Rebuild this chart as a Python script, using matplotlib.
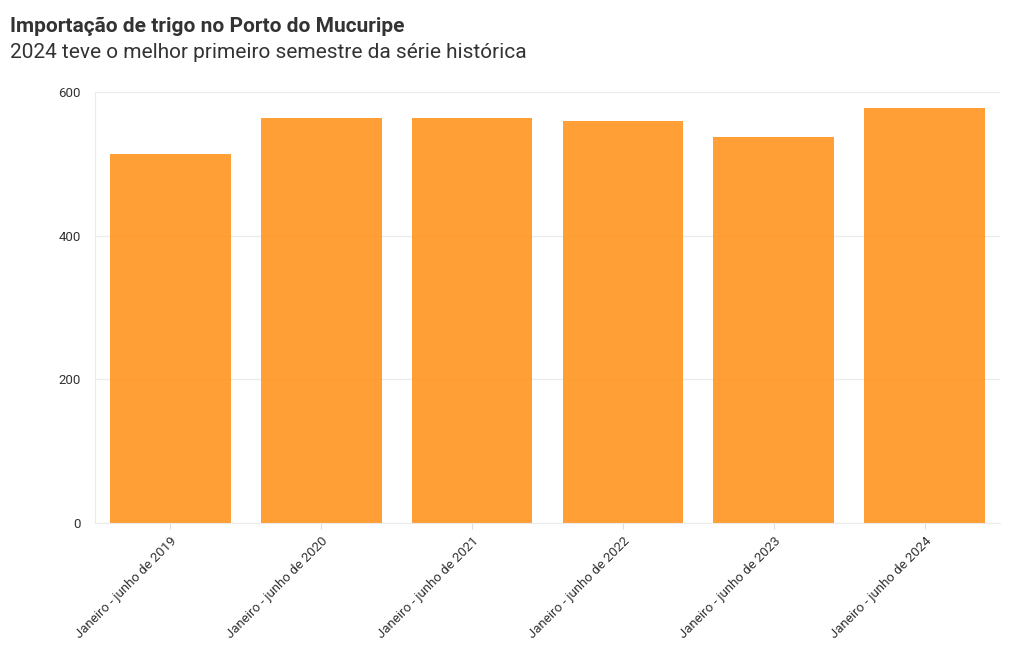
import matplotlib
matplotlib.use("Agg")
import matplotlib.pyplot as plt
import numpy as np

plt.rcParams['font.family'] = ['Roboto', 'DejaVu Sans']

periodos = ["Janeiro - junho de 2019", "Janeiro - junho de 2020", "Janeiro - junho de 2021",
            "Janeiro - junho de 2022", "Janeiro - junho de 2023", "Janeiro - junho de 2024"]
valores = [514, 564, 564, 560, 537, 578]
yticks = [0, 200, 400, 600]

fig = plt.figure(figsize=(10.2, 6.5), dpi=100)
ax = fig.add_axes([0.0931, 0.1954, 0.8873, 0.6631])

x = np.arange(len(periodos))
ax.bar(x, valores, width=0.8, color='#FF9A2A', alpha=0.95, zorder=2)

ax.set_xlim(-0.5, len(periodos) - 0.5)
ax.set_ylim(0, 600)
ax.set_yticks(yticks)
ax.set_yticklabels([str(v) for v in yticks], fontsize=9.5, color='#333333')
ax.set_xticks(x)
ax.set_xticklabels(periodos, rotation=45, ha='right', rotation_mode='anchor',
                   fontsize=9.5, color='#333333')

ax.grid(axis='y', color='#ebebeb', linewidth=0.9, zorder=0)
for s in ['top', 'right']:
    ax.spines[s].set_visible(False)
ax.spines['left'].set_color('#ebebeb')
ax.spines['bottom'].set_color('#ebebeb')
ax.tick_params(axis='y', length=0, pad=10)
ax.tick_params(axis='x', length=4, color='#dddddd', pad=4)

fig.text(0.0098, 0.951, "Importação de trigo no Porto do Mucuripe", fontsize=15,
         fontweight='bold', color='#333333', va='baseline')
fig.text(0.0098, 0.911, "2024 teve o melhor primeiro semestre da série histórica", fontsize=15,
         color='#333333', va='baseline')

fig.savefig("out.png", dpi=100)
